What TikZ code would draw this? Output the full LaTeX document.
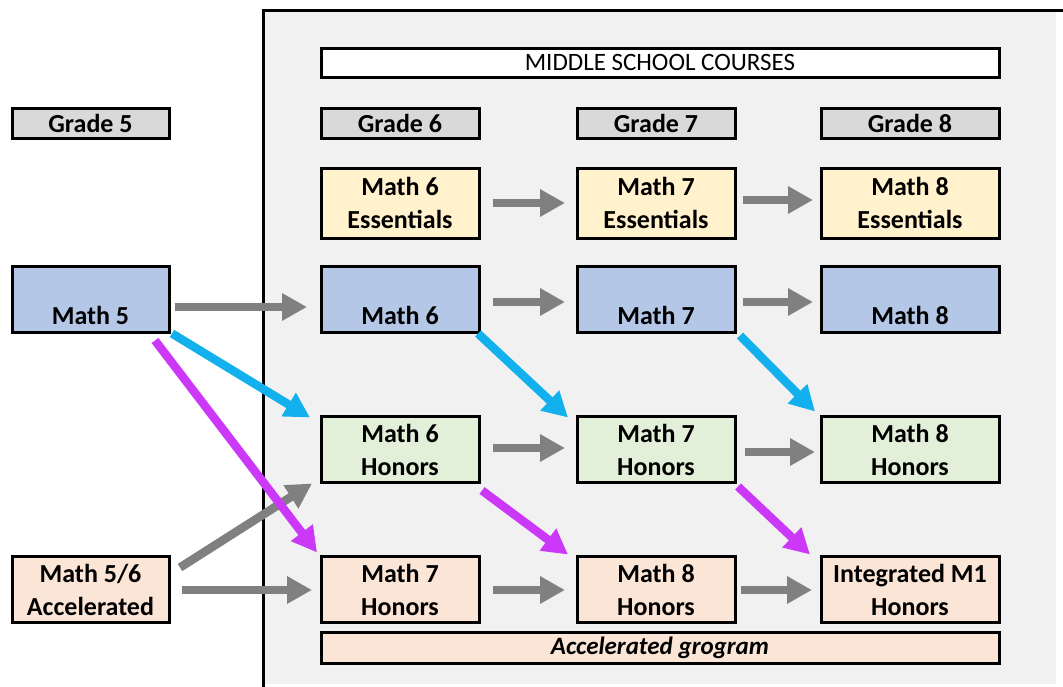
\documentclass[tikz,border=0pt]{standalone}
\usepackage{fontspec}
\setmainfont{Carlito}
\usetikzlibrary{arrows.meta}
\definecolor{panelgray}{HTML}{F1F1F1}
\definecolor{gradegray}{HTML}{D9D9D9}
\definecolor{essyellow}{HTML}{FFF2CC}
\definecolor{regblue}{HTML}{B4C7E7}
\definecolor{hongreen}{HTML}{E2F0D9}
\definecolor{accpeach}{HTML}{FBE5D6}
\definecolor{arrowgray}{HTML}{808080}
\definecolor{arrowblue}{HTML}{12B0EC}
\definecolor{arrowmag}{HTML}{CC38F8}
\tikzset{
  box/.style={draw=black, line width=3pt, inner sep=0pt, outer sep=0pt, align=center,
    text=black, font=\fontsize{26}{33}\selectfont\bfseries},
  c5/.style={minimum width=157pt},
  c6/.style={minimum width=158pt},
  c8/.style={minimum width=178pt},
  gradebox/.style={box, fill=gradegray, minimum height=30pt},
  coursebox/.style={box, minimum height=66pt},
  ess/.style={coursebox, fill=essyellow, minimum height=70pt},
  reg/.style={coursebox, fill=regblue},
  hon/.style={coursebox, fill=hongreen},
  acc/.style={coursebox, fill=accpeach},
  arr/.style={line width=8.5pt, -{Triangle[length=25pt,width=26pt]}},
  garrow/.style={arr, draw=arrowgray, fill=arrowgray},
  barrow/.style={arr, draw=arrowblue, fill=arrowblue},
  marrow/.style={arr, draw=arrowmag, fill=arrowmag},
}
\newcommand{\up}{\rule{0pt}{17pt}}
\begin{document}
\begin{tikzpicture}[x=1pt,y=-1pt]
\useasboundingbox (0,0) rectangle (1063,686);
\fill[white] (0,0) rectangle (1063,686);
% panel
\fill[panelgray] (263,10) rectangle (1056,684);
\draw[line width=3pt, line cap=rect] (263,686) -- (263,10) -- (1063,10);

% header and grade labels
\node[box, fill=white, minimum width=678pt, minimum height=29pt,
  font=\fontsize{25}{28}\selectfont] (hdr) at (660,62.5) {MIDDLE SCHOOL COURSES};
\node[gradebox, c5] (g5) at (90.5,123) {Grade 5};
\node[gradebox, c6] (g6) at (400,123) {Grade 6};
\node[gradebox, c6] (g7) at (656,123) {Grade 7};
\node[gradebox, c8] (g8) at (910,123) {Grade 8};

% essentials
\node[ess, c6] (e6) at (400,203) {Math 6\\Essentials};
\node[ess, c6] (e7) at (656,203) {Math 7\\Essentials};
\node[ess, c8] (e8) at (910,203) {Math 8\\Essentials};

% regular
\node[reg, c5] (m5) at (90.5,299.5) {\up\\Math 5};
\node[reg, c6] (m6) at (400,299.5) {\up\\Math 6};
\node[reg, c6] (m7) at (656,299.5) {\up\\Math 7};
\node[reg, c8] (m8) at (910,299.5) {\up\\Math 8};

% honors
\node[hon, c6] (h6) at (400,449.5) {Math 6\\Honors};
\node[hon, c6] (h7) at (656,449.5) {Math 7\\Honors};
\node[hon, c8] (h8) at (910,449.5) {Math 8\\Honors};

% accelerated
\node[acc, c5] (a56) at (90.5,589.5) {Math 5/6\\Accelerated};
\node[acc, c6] (a7) at (400,589.5) {Math 7\\Honors};
\node[acc, c6] (a8) at (656,589.5) {Math 8\\Honors};
\node[acc, c8] (ai) at (910,589.5) {Integrated M1\\Honors};
\node[box, fill=accpeach, minimum width=678pt, minimum height=31pt,
  font=\fontsize{25}{28}\selectfont\bfseries\itshape] (bar) at (660,648) {Accelerated grogram};

% gray arrows
\draw[garrow] ([shift={(6,7.5)}]m5.east) -- ([shift={(-14,7.5)}]m6.west);
\draw[garrow] ([shift={(14,0)}]e6.east) -- ([shift={(-12,0)}]e7.west);
\draw[garrow] ([shift={(8,-3)}]e7.east) -- ([shift={(-8,-3)}]e8.west);
\draw[garrow] ([shift={(14,2.5)}]m6.east) -- ([shift={(-12,2.5)}]m7.west);
\draw[garrow] ([shift={(8,2.5)}]m7.east) -- ([shift={(-8,2.5)}]m8.west);
\draw[garrow] ([shift={(14,-1.5)}]h6.east) -- ([shift={(-12,-1.5)}]h7.west);
\draw[garrow] ([shift={(10,2.5)}]h7.east) -- ([shift={(-6,2.5)}]h8.west);
\draw[garrow] ([shift={(13,0.5)}]a56.east) -- ([shift={(-9,0.5)}]a7.west);
\draw[garrow] ([shift={(14,0.5)}]a7.east) -- ([shift={(-12,0.5)}]a8.west);
\draw[garrow] ([shift={(6,0.5)}]a8.east) -- ([shift={(-9,0.5)}]ai.west);
\draw[garrow] ([shift={(11,11)}]a56.north east) -- ([shift={(-9,1)}]h6.south west);

% blue arrows
\draw[barrow] ([shift={(3,1)}]m5.south east) -- ([shift={(-11,1)}]h6.north west);
\draw[barrow] ([shift={(-1,1)}]m6.south east) -- ([shift={(-9,1)}]h7.north west);
\draw[barrow] ([shift={(5,3)}]m7.south east) -- ([shift={(-6,-5)}]h8.north west);

% magenta arrows
\draw[marrow] ([shift={(-14,8)}]m5.south east) -- ([shift={(-4,-4)}]a7.north west);
\draw[marrow] ([shift={(3,8)}]h6.south east) -- ([shift={(-9,-2)}]a8.north west);
\draw[marrow] ([shift={(3,4)}]h7.south east) -- ([shift={(-11,-2)}]ai.north west);
\end{tikzpicture}
\end{document}
